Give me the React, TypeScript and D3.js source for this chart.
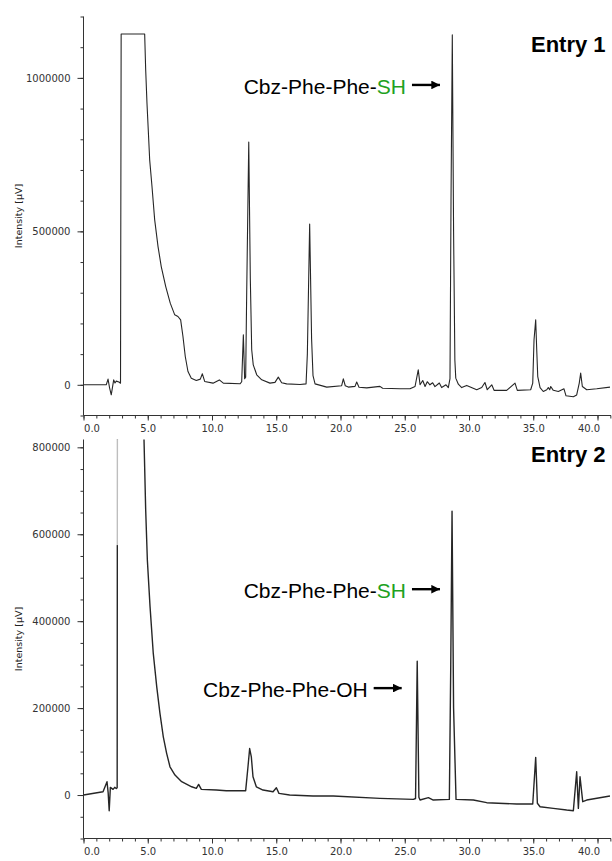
import React, { useEffect, useRef } from 'react';
import * as d3 from 'd3';

// retention time (min), intensity (µV)
const entry1Trace: [number, number][] = [
  [0, 0], [1.77, 0], [1.91, 18500], [2.02, -8000], [2.16, -32600], [2.35, 16000], [2.45, 6000],
  [2.55, 12000], [2.76, 9000], [2.88, 5000], [2.93, 1143000], [4.76, 1143000], [4.84, 1026000],
  [4.94, 917500], [5.04, 830500], [5.15, 733000], [5.33, 646000], [5.54, 537400], [5.8, 450400],
  [6.05, 385300], [6.4, 320200], [6.75, 266000], [7.1, 228000], [7.35, 222500], [7.56, 211700],
  [7.74, 157300], [7.92, 92200], [8.13, 43300], [8.39, 21700], [8.78, 14000], [9.09, 18500],
  [9.25, 35800], [9.43, 10900], [10.08, 5400], [10.57, 16000], [10.88, 5500], [12.18, 3300],
  [12.31, 10000], [12.44, 163000], [12.54, 20000], [12.62, 25000], [12.7, 300000], [12.86, 791000],
  [12.98, 350000], [13.09, 114000], [13.21, 65000], [13.48, 32600], [13.87, 16300], [14.51, 5500],
  [14.9, 8000], [15.16, 25000], [15.42, 6500], [15.81, 3000], [16.85, 1000], [17.32, 3000],
  [17.42, 100000], [17.6, 524000], [17.75, 150000], [17.86, 30000], [18.02, 3000], [18.93, -7500],
  [20.09, -3000], [20.22, 19500], [20.37, -3000], [20.61, -7500], [21.13, -5000], [21.26, 9000],
  [21.44, -8000], [22.04, -10000], [23.07, -5000], [23.28, -11000], [24.63, -13000], [25.41, -13000],
  [25.8, -5500], [26.05, 48900], [26.19, 0], [26.4, 14000], [26.58, -5500], [26.75, 10000],
  [26.96, 0], [27.17, 6500], [27.35, -6000], [27.69, 6000], [27.87, -9000], [28.21, 0],
  [28.39, -9000], [28.52, 20000], [28.6, 600000], [28.7, 1140000], [28.8, 500000], [28.9, 80000],
  [28.97, 21700], [29.17, 2000], [29.43, -9000], [29.82, -2000], [30.6, -16000], [30.99, -9000],
  [31.24, 7600], [31.42, -16000], [31.77, 0], [31.95, -18000], [32.93, -18000], [33.58, 5500],
  [33.76, -18000], [34.8, -16000], [34.96, 5500], [35.06, 146600], [35.19, 212000], [35.27, 114000],
  [35.35, 27000], [35.53, -9000], [35.78, -21800], [36.05, -16000], [36.17, -9000], [36.28, -16000],
  [36.36, -5500], [36.56, -18000], [36.95, -21800], [37.39, -13000], [37.55, -35800], [38.12, -39000],
  [38.38, -33000], [38.58, 5500], [38.69, 38000], [38.82, -5500], [39.16, -16000], [39.94, -13000],
  [40.97, -7500],
];

const entry2Trace: [number, number][] = [
  [0, 0], [1.52, 7600], [1.83, 30600], [1.92, 5000], [2.0, -36000], [2.09, 17700], [2.3, 13000],
  [2.43, 17700], [2.55, 15000], [2.62, 17000], [2.64, 1000000], [4.66, 1000000], [4.71, 816000],
  [4.84, 655000], [4.97, 540000], [5.18, 433000], [5.43, 325800], [5.7, 249000], [5.95, 187800],
  [6.21, 134000], [6.47, 95900], [6.73, 65000], [7.12, 46000], [7.64, 30600], [8.42, 19000],
  [8.78, 15300], [8.96, 24500], [9.17, 13000], [10.34, 11500], [11.11, 10000], [12.62, 10000],
  [12.8, 65000], [12.93, 107000], [13.06, 88000], [13.19, 42000], [13.45, 19000], [13.97, 11500],
  [14.75, 7600], [15.01, 16800], [15.21, 3800], [16.04, 0], [17.86, -2300], [19.44, -2300],
  [23.07, -7700], [25.67, -10000], [25.84, -8000], [25.97, 308000], [26.1, -5000], [26.19, -11500],
  [26.84, -6000], [27.22, -11500], [28.47, -10000], [28.58, 300000], [28.68, 653000], [28.8, 200000],
  [28.99, -10000], [30.34, -11500], [31.38, -17600], [33.71, -20700], [34.96, -20700], [35.19, 86700],
  [35.32, -19000], [35.53, -27000], [36.56, -30700], [37.6, -34500], [38.12, -36000], [38.38, 53600],
  [38.51, -30700], [38.64, 42000], [38.85, -15300], [39.16, -11500], [40.97, -2300],
];

const timeTicks = [0, 5, 10, 15, 20, 25, 30, 35, 40];
const entry1IntensityTicks = [0, 500000, 1000000];
const entry2IntensityTicks = [0, 200000, 400000, 600000, 800000];
const entryTitles = ['Entry 1', 'Entry 2'];

// arrow tip (time, intensity) for each label
const labels = [
  { panel: 0, text: 'Cbz-Phe-Phe-', tail: 'SH', time: 27.74, level: 977000 },
  { panel: 1, text: 'Cbz-Phe-Phe-', tail: 'SH', time: 27.74, level: 473600 },
  { panel: 1, text: 'Cbz-Phe-Phe-OH', tail: '', time: 24.76, level: 246000 },
];

const App = () => {
  const ref = useRef<SVGSVGElement>(null);

  useEffect(() => {
    const svg = d3.select(ref.current);
    svg.selectAll('*').remove();

    const x = d3.scaleLinear().domain([0, 41.05]).range([83.5, 611]);

    const panels = [
      { trace: entry1Trace, top: 16.5, bottom: 415.5, domain: [-100000, 1200000], ticks: entry1IntensityTicks, minor: 100000, titleY: 52, lw: 1.1 },
      { trace: entry2Trace, top: 439.5, bottom: 838.5, domain: [-100000, 818000], ticks: entry2IntensityTicks, minor: 50000, titleY: 462, lw: 1.4 },
    ];

    const defs = svg.append('defs');
    defs.append('marker')
      .attr('id', 'head')
      .attr('viewBox', '0 0 10 10')
      .attr('refX', 10).attr('refY', 5)
      .attr('markerWidth', 5).attr('markerHeight', 3.6)
      .attr('markerUnits', 'strokeWidth')
      .attr('orient', 'auto')
      .append('path').attr('d', 'M0,0L10,5L0,10Z').attr('fill', '#000');

    const yScales: d3.ScaleLinear<number, number>[] = [];

    panels.forEach((p, i) => {
      const y = d3.scaleLinear().domain(p.domain).range([p.bottom, p.top]);
      yScales.push(y);
      const g = svg.append('g');

      defs.append('clipPath').attr('id', `clip${i}`)
        .append('rect').attr('x', 83.5).attr('y', p.top).attr('width', 528).attr('height', p.bottom - p.top);

      // minor + major ticks on y
      const minorY = d3.range(p.domain[0], p.domain[1] + 1, p.minor);
      g.append('g').attr('transform', 'translate(83.5,0)')
        .call(d3.axisLeft(y).tickValues(minorY).tickSize(3).tickSizeOuter(0).tickFormat(() => ''))
        .call((a) => a.select('.domain').remove());
      const ya = g.append('g').attr('transform', 'translate(83.5,0)')
        .call(d3.axisLeft(y).tickValues(p.ticks).tickSize(6).tickSizeOuter(0).tickPadding(7).tickFormat(d3.format('d')));
      ya.select('.domain').attr('d', `M0,${p.top}V${p.bottom}`);

      // x axis
      g.append('g').attr('transform', `translate(0,${p.bottom})`)
        .call(d3.axisBottom(x).tickValues(d3.range(0, 42, 1)).tickSize(3).tickSizeOuter(0).tickFormat(() => ''))
        .call((a) => a.select('.domain').remove());
      const xa = g.append('g').attr('transform', `translate(0,${p.bottom})`)
        .call(d3.axisBottom(x).tickValues(timeTicks).tickSize(5).tickSizeOuter(0).tickPadding(4).tickFormat(d3.format('.1f')));
      xa.select('.domain').attr('d', `M83.5,0H611`);
      xa.selectAll('text').filter((d) => d === 0).attr('dx', 8);
      xa.selectAll('text').filter((d) => d === 40).attr('dx', -9);

      svg.selectAll('.tick line').attr('stroke', '#333');
      svg.selectAll('.domain').attr('stroke', '#333');
      svg.selectAll('.tick text')
        .attr('fill', '#333')
        .style('font-family', '"DejaVu Sans", sans-serif')
        .style('font-size', '10px');

      g.append('text')
        .attr('transform', `translate(22,${(p.top + p.bottom) / 2}) rotate(-90)`)
        .attr('text-anchor', 'middle')
        .style('font-family', '"DejaVu Sans", sans-serif')
        .style('font-size', '9.5px')
        .attr('fill', '#222')
        .text('Intensity [µV]');

      const line = d3.line<[number, number]>().x((d) => x(d[0])).y((d) => y(d[1]));
      g.append('path')
        .datum(p.trace)
        .attr('clip-path', `url(#clip${i})`)
        .attr('d', line)
        .attr('fill', 'none')
        .attr('stroke', '#262626')
        .attr('stroke-width', p.lw)
        .attr('stroke-linejoin', 'round');

      // the steep front of the solvent peak in entry 2 fades to grey near the top
      if (i === 1) {
        g.append('rect')
          .attr('x', x(2.45)).attr('width', x(2.85) - x(2.45))
          .attr('y', p.top).attr('height', y(575000) - p.top)
          .attr('fill', '#fff').attr('opacity', 0.7);
      }

      g.append('text')
        .attr('x', 531)
        .attr('y', p.titleY)
        .style('font-family', '"Liberation Sans", Arial, sans-serif')
        .style('font-size', '22px')
        .style('font-weight', 'bold')
        .attr('fill', '#000')
        .text(entryTitles[i]);
    });

    labels.forEach((l) => {
      const y = yScales[l.panel];
      const tipX = x(l.time);
      const tipY = y(l.level);
      svg.append('line')
        .attr('x1', tipX - 28).attr('x2', tipX)
        .attr('y1', tipY).attr('y2', tipY)
        .attr('stroke', '#000').attr('stroke-width', 2.4)
        .attr('marker-end', 'url(#head)');
      const t = svg.append('text')
        .attr('x', tipX - 34)
        .attr('y', tipY + 9)
        .attr('text-anchor', 'end')
        .style('font-family', '"Liberation Sans", Arial, sans-serif')
        .style('font-size', '21px')
        .attr('fill', '#000');
      t.append('tspan').text(l.text);
      if (l.tail) t.append('tspan').attr('fill', '#1ea11e').text(l.tail);
    });
  }, []);

  return (
    <svg
      ref={ref}
      width={612}
      height={861}
      style={{ position: 'absolute', left: 0, top: 0, background: '#fff' }}
    />
  );
};

export default App;
